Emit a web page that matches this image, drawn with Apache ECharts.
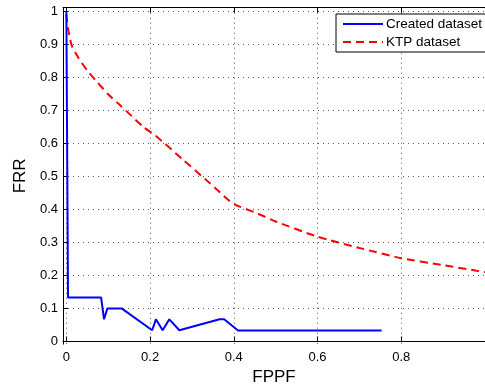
<!DOCTYPE html>
<html><head><meta charset="utf-8">
<script src="https://cdn.jsdelivr.net/npm/echarts@6/dist/echarts.min.js"></script>
<style>html,body{margin:0;padding:0;background:#fff}#c{width:485px;height:391px}</style>
</head><body><div id="c"></div>
<script>
const createdX = [0, 0.004, 0.083, 0.09, 0.098, 0.132, 0.205, 0.214, 0.23, 0.246, 0.27, 0.366, 0.377, 0.41, 0.753];
const createdY = [1, 0.133, 0.133, 0.067, 0.1, 0.1, 0.034, 0.067, 0.034, 0.067, 0.034, 0.067, 0.067, 0.0333, 0.0333];
const ktpX = [0, 0.005, 0.013, 0.029, 0.051, 0.075, 0.1, 0.13, 0.185, 0.213, 0.276, 0.331, 0.362, 0.39, 0.402, 0.414, 0.457, 0.5, 0.6, 0.7, 0.8, 0.9, 0.98, 1.0];
const ktpY = [0.99, 0.94, 0.895, 0.858, 0.818, 0.783, 0.748, 0.713, 0.648, 0.623, 0.553, 0.492, 0.457, 0.425, 0.415, 0.408, 0.387, 0.363, 0.317, 0.283, 0.252, 0.231, 0.214, 0.21];
const xTicks = [0, 0.2, 0.4, 0.6, 0.8, 1.0];
const yTicks = [0, 0.1, 0.2, 0.3, 0.4, 0.5, 0.6, 0.7, 0.8, 0.9, 1];
const seriesNames = ['Created dataset', 'KTP dataset'];

const font = 'Liberation Sans, Arial, sans-serif';
const gridLine = {show: true, lineStyle: {color: '#555', type: [1, 4], width: 1}};
const chart = echarts.init(document.getElementById('c'), null, {renderer: 'canvas'});
chart.setOption({
  animation: false,
  grid: {left: 63, top: 7.7, width: 427, height: 339},
  legend: {
    data: seriesNames, orient: 'vertical', left: 336, top: 14,
    borderColor: '#000', borderWidth: 1, borderRadius: 0, backgroundColor: '#fff',
    padding: [3, 20, 3, 6], itemGap: 4, itemWidth: 40, itemHeight: 14,
    itemStyle: {opacity: 0},
    textStyle: {fontFamily: font, fontSize: 13.5, color: '#000', padding: [0, 0, 0, -2]}
  },
  xAxis: [{
    type: 'value', min: -0.008, max: 1.0, position: 'bottom',
    name: 'FPPF', nameLocation: 'middle', nameGap: 18,
    nameTextStyle: {fontFamily: font, fontSize: 17, color: '#000'},
    axisLine: {show: true, lineStyle: {color: '#000', width: 1}},
    axisTick: {show: true, inside: true, length: 5, customValues: xTicks, lineStyle: {color: '#000'}},
    axisLabel: {customValues: xTicks.slice(0, 5), fontFamily: font, fontSize: 13, color: '#000', margin: 7,
      formatter: v => String(+v.toFixed(1))},
    splitLine: gridLine
  }, {
    type: 'value', min: -0.008, max: 1.0, position: 'top',
    axisLine: {show: true, onZero: false, lineStyle: {color: '#000', width: 1}},
    axisTick: {show: true, inside: true, length: 5, customValues: xTicks, lineStyle: {color: '#000'}},
    axisLabel: {show: false}, splitLine: {show: false}
  }],
  yAxis: [{
    type: 'value', min: -0.008, max: 1.01, position: 'left',
    name: 'FRR', nameLocation: 'middle', nameGap: 31, nameRotate: 90,
    nameTextStyle: {fontFamily: font, fontSize: 17, color: '#000'},
    axisLine: {show: true, onZero: false, lineStyle: {color: '#000', width: 1}},
    axisTick: {show: true, inside: true, length: 5, customValues: yTicks, lineStyle: {color: '#000'}},
    axisLabel: {customValues: yTicks, fontFamily: font, fontSize: 13, color: '#000', margin: 5,
      formatter: v => String(+v.toFixed(1))},
    splitLine: gridLine
  }],
  series: [{
    name: seriesNames[0], type: 'line', xAxisIndex: 0, symbol: 'none',
    data: createdX.map((x, i) => [x, createdY[i]]),
    lineStyle: {color: '#0000ff', width: 2}, itemStyle: {color: '#0000ff'}, z: 3
  }, {
    name: seriesNames[1], type: 'line', xAxisIndex: 0, symbol: 'none', smooth: 0.2,
    data: ktpX.map((x, i) => [x, ktpY[i]]),
    lineStyle: {color: '#ff0000', width: 2, type: [8, 5]}, itemStyle: {color: '#ff0000'}, z: 2
  }]
});
</script></body></html>
